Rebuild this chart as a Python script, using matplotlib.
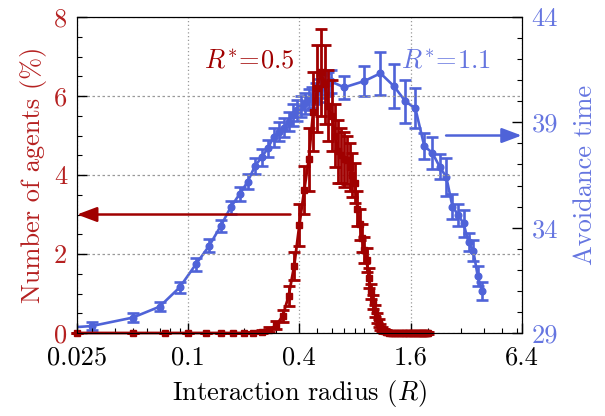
import numpy as np
import matplotlib
matplotlib.use('Agg')
import matplotlib.pyplot as plt
from matplotlib.ticker import FixedLocator, LogLocator, MultipleLocator, NullFormatter

plt.rcParams['font.family'] = 'serif'
plt.rcParams['font.serif'] = ['cmr10']
plt.rcParams['mathtext.fontset'] = 'cm'
plt.rcParams['axes.unicode_minus'] = False

# red series: share of agents (%) vs interaction radius
r_red = [0.025, 0.05, 0.075, 0.1, 0.125, 0.15, 0.175, 0.2, 0.225, 0.25,
         0.275, 0.3, 0.325, 0.35, 0.375, 0.4, 0.425, 0.45, 0.475, 0.5,
         0.525, 0.55, 0.575, 0.6, 0.625, 0.65, 0.675, 0.7, 0.725, 0.75,
         0.775, 0.8, 0.825, 0.85, 0.875, 0.9, 0.925, 0.95, 0.975, 1.0,
         1.025, 1.05, 1.075, 1.1, 1.125, 1.15, 1.175, 1.2, 1.225, 1.25,
         1.275, 1.3, 1.325, 1.35, 1.375, 1.4, 1.425, 1.45, 1.475, 1.5,
         1.525, 1.55, 1.575, 1.6, 1.625, 1.65, 1.675, 1.7, 1.725, 1.75,
         1.775, 1.8, 1.825, 1.85, 1.875, 1.9, 1.925, 1.95, 1.975, 2.0]
n_red = [0, 0, 0, 0, 0, 0, 0, 0, 0.01, 0.03,
         0.08, 0.2, 0.43, 0.94, 1.7, 2.73, 3.62, 4.4, 5.6, 6.2,
         6.6, 6.3, 5.75, 5.5, 5.0, 4.6, 4.5, 4.4, 4.38, 4.2,
         4.0, 3.8, 3.15, 2.75, 2.4, 2.1, 1.85, 1.4, 1.05, 0.78,
         0.55, 0.38, 0.25, 0.15, 0.09, 0.05, 0.03, 0.02, 0.01, 0.01,
         0, 0, 0, 0, 0, 0, 0, 0, 0, 0,
         0, 0, 0, 0, 0, 0, 0, 0, 0, 0,
         0, 0, 0, 0, 0, 0, 0, 0, 0, 0]
e_red = [0, 0, 0, 0, 0, 0, 0, 0.01, 0.02, 0.04,
         0.06, 0.1, 0.15, 0.25, 0.36, 0.53, 0.6, 0.8, 1.0, 1.1,
         1.1, 1.0, 0.9, 0.9, 0.8, 0.8, 0.7, 0.7, 0.6, 0.6,
         0.55, 0.5, 0.45, 0.4, 0.35, 0.32, 0.3, 0.25, 0.2, 0.18,
         0.15, 0.12, 0.1, 0.08, 0.06, 0.05, 0.04, 0.03, 0.02, 0.02,
         0.02, 0.02, 0.02, 0.02, 0.02, 0.02, 0.02, 0.02, 0.02, 0.02,
         0.02, 0.02, 0.02, 0.02, 0.02, 0.02, 0.02, 0.02, 0.02, 0.02,
         0.02, 0.02, 0.02, 0.02, 0.02, 0.02, 0.02, 0.02, 0.02, 0.02]

# blue series: avoidance time vs interaction radius
r_blue = [0.01, 0.03, 0.05, 0.07, 0.09, 0.11, 0.13, 0.15, 0.17, 0.19,
          0.21, 0.23, 0.25, 0.27, 0.29, 0.31, 0.33, 0.35, 0.37, 0.39,
          0.41, 0.43, 0.45, 0.47, 0.49, 0.51, 0.53, 0.55, 0.57, 0.59,
          0.7, 0.9, 1.1, 1.3, 1.5, 1.7, 1.9, 2.1, 2.3, 2.5,
          2.7, 2.9, 3.1, 3.3, 3.5, 3.7, 3.9]
t_blue = [29.05, 29.33, 29.73, 30.25, 31.17, 32.26, 33.14, 34.08, 34.97, 35.6,
          36.18, 36.93, 37.34, 37.77, 38.3, 38.55, 38.74, 39.03, 39.35, 39.58,
          39.74, 39.9, 40.1, 40.2, 40.35, 40.5, 40.7, 40.8, 40.85, 40.95,
          40.66, 40.96, 41.33, 40.72, 40.0, 39.66, 37.87, 37.55, 36.9, 36.4,
          35.0, 34.6, 34.2, 33.3, 32.9, 31.7, 31.0]
e_blue = [0.15, 0.2, 0.2, 0.2, 0.25, 0.3, 0.3, 0.3, 0.3, 0.35,
          0.35, 0.4, 0.4, 0.4, 0.45, 0.45, 0.45, 0.45, 0.5, 0.5,
          0.5, 0.5, 0.5, 0.5, 0.5, 0.55, 0.55, 0.55, 0.55, 0.55,
          0.54, 0.73, 1.03, 1.03, 1.03, 0.95, 0.62, 0.76, 0.61, 0.89,
          0.58, 0.54, 0.65, 0.43, 0.5, 0.46, 0.42]

xticks = [0.025, 0.1, 0.4, 1.6, 6.4]
xticklabels = ['0.025', '0.1', '0.4', '1.6', '6.4']

red = '#a00000'
red_txt = '#b52020'
blue = '#4f63d8'
blue_txt = '#6575e0'
fs = 19

fig = plt.figure(figsize=(6.05, 4.16), dpi=100)
ax = fig.add_axes([0.1273, 0.1995, 0.735, 0.7596])
ax2 = ax.twinx()
ax.set_zorder(ax2.get_zorder() + 1)
ax.patch.set_visible(False)

ax2.errorbar(r_blue, t_blue, yerr=e_blue, color=blue, marker='o', ms=4.8,
             lw=1.9, elinewidth=1.9, capsize=4.2, capthick=1.9)
ax.errorbar(r_red, n_red, yerr=e_red, color=red, marker='s', ms=4.2,
            lw=2.0, elinewidth=2.0, capsize=4.2, capthick=2.0, clip_on=False)

ax.set_xscale('log', base=2)
ax.set_xlim(0.025, 6.4)
ax.set_ylim(0, 8)
ax2.set_ylim(29, 44)

ax.xaxis.set_major_locator(FixedLocator(xticks))
ax.set_xticklabels(xticklabels)
ax.xaxis.set_minor_locator(LogLocator(base=10, subs=np.arange(2, 10)))
ax.xaxis.set_minor_formatter(NullFormatter())
ax.yaxis.set_major_locator(MultipleLocator(2))
ax.yaxis.set_minor_locator(MultipleLocator(0.5))
ax2.yaxis.set_major_locator(FixedLocator([29, 34, 39, 44]))
ax2.yaxis.set_minor_locator(MultipleLocator(1))

ax.tick_params(which='both', direction='in', top=False, right=False, labelsize=fs)
ax.tick_params(which='major', length=7, width=1)
ax.tick_params(which='minor', length=3.5, width=0.8)
ax.tick_params(axis='x', pad=9)
ax.tick_params(axis='y', labelcolor=red_txt, pad=7)
ax2.tick_params(which='both', direction='in', labelsize=fs, labelcolor=blue_txt, pad=7)
ax2.tick_params(which='major', length=7, width=1)
ax2.tick_params(which='minor', length=3.5, width=0.8)

ax.grid(True, axis='x', which='major', color='#999999', ls=(0, (1, 2)), lw=0.9)
ax.grid(True, axis='y', which='major', color='#999999', ls=(0, (2, 2)), lw=0.9)

ax.set_xlabel('Interaction radius ($R$)', fontsize=fs, labelpad=6)
ax.set_ylabel('Number of agents (%)', fontsize=fs, color=red_txt, labelpad=5)
ax2.set_ylabel('Avoidance time', fontsize=fs, color=blue_txt, labelpad=11)

ax.text(0.215, 6.9, r'$R^{*}\!=\!0.5$', color=red, fontsize=fs, ha='center', va='center')
ax.text(2.5, 6.9, r'$R^{*}\!=\!1.1$', color=blue_txt, fontsize=fs, ha='center', va='center')

ax.annotate('', xy=(0.0, 3), xytext=(0.48, 3),
            xycoords=('axes fraction', 'data'), textcoords=('axes fraction', 'data'),
            arrowprops=dict(arrowstyle='-|>,head_length=1.2,head_width=0.45',
                            color=red, lw=1.8, shrinkA=0, shrinkB=0))
ax.annotate('', xy=(1.0, 5), xytext=(0.83, 5),
            xycoords=('axes fraction', 'data'), textcoords=('axes fraction', 'data'),
            arrowprops=dict(arrowstyle='-|>,head_length=1.2,head_width=0.45',
                            color=blue, lw=1.8, shrinkA=0, shrinkB=0))

fig.savefig('out.png', dpi=100)
